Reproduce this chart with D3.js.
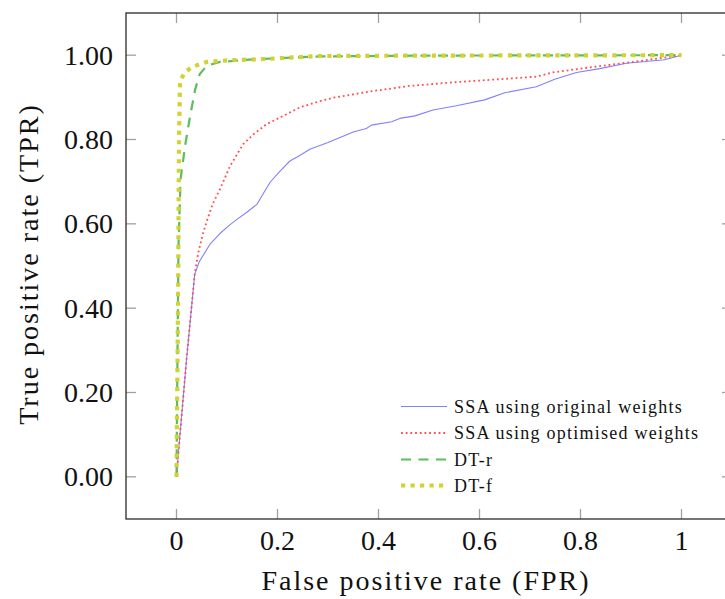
<!DOCTYPE html>
<html><head><meta charset="utf-8">
<script src="https://cdn.jsdelivr.net/npm/d3@7"></script>
<style>
body{margin:0;background:#fff;}
svg{display:block;}
text{font-family:"Liberation Serif","DejaVu Serif",serif;fill:#111;}
</style></head>
<body><svg id="c" width="725" height="599"></svg>
<script>
const xTicks = [0, 0.2, 0.4, 0.6, 0.8, 1];
const xTickLabels = ["0", "0.2", "0.4", "0.6", "0.8", "1"];
const yTicks = [0, 0.2, 0.4, 0.6, 0.8, 1.0];
const yTickLabels = ["0.00", "0.20", "0.40", "0.60", "0.80", "1.00"];
const seriesNames = ["SSA using original weights", "SSA using optimised weights", "DT-r", "DT-f"];

const ssaOriginal = [[0,0],[0.004,0.06],[0.012,0.17],[0.02,0.28],[0.028,0.38],[0.036,0.48],[0.045,0.51],[0.066,0.551],[0.086,0.577],[0.105,0.597],[0.119,0.61],[0.14,0.628],[0.159,0.646],[0.172,0.672],[0.185,0.698],[0.205,0.725],[0.2245,0.749],[0.244,0.762],[0.264,0.777],[0.3,0.793],[0.35,0.818],[0.376,0.826],[0.386,0.834],[0.426,0.842],[0.442,0.850],[0.472,0.856],[0.508,0.870],[0.554,0.880],[0.610,0.894],[0.650,0.911],[0.7125,0.925],[0.749,0.943],[0.792,0.959],[0.838,0.968],[0.891,0.981],[0.966,0.989],[1,1]];
const ssaOptimised = [[0,0],[0.004,0.06],[0.012,0.17],[0.02,0.28],[0.028,0.38],[0.036,0.48],[0.043,0.531],[0.052,0.575],[0.061,0.61],[0.072,0.648],[0.086,0.682],[0.106,0.737],[0.132,0.789],[0.152,0.812],[0.178,0.836],[0.218,0.860],[0.244,0.876],[0.284,0.891],[0.310,0.899],[0.389,0.915],[0.462,0.927],[0.541,0.935],[0.640,0.943],[0.7125,0.949],[0.745,0.959],[0.818,0.971],[0.904,0.984],[0.970,0.995],[1,1]];
const dtR = [[0,0],[0.002,0.3],[0.004,0.55],[0.008,0.705],[0.017,0.785],[0.027,0.856],[0.037,0.919],[0.046,0.955],[0.060,0.975],[0.086,0.984],[0.151,0.990],[0.284,0.997],[0.5,0.999],[1,1]];
const dtF = [[0,0],[0.003,0.4],[0.005,0.8],[0.007,0.939],[0.017,0.960],[0.033,0.973],[0.060,0.984],[0.106,0.988],[0.178,0.991],[0.284,0.998],[0.5,0.999],[1,1]];

const svg = d3.select("#c");
const L = 126, R = 732, T = 13, B = 519;
const x = d3.scaleLinear().domain([-0.1, 1.1]).range([L, R]);
const y = d3.scaleLinear().domain([-0.1, 1.1]).range([B, T]);

const styles = [
  {data: ssaOriginal, color: "#8080ff", width: 1.1, dash: null, cap: "butt"},
  {data: ssaOptimised, color: "#ff4d4d", width: 1.8, dash: "1.8,2.9", cap: "butt"},
  {data: dtR, color: "#5cbd5c", width: 2.2, dash: "10,7.5", cap: "butt"},
  {data: dtF, color: "#d2d232", width: 4.2, dash: "4.2,5.3", cap: "butt"}
];

const g = svg.append("g");
const tickLen = 10;
const tk = g.append("g").attr("stroke", "#a0a0a0").attr("stroke-width", 1.3);
xTicks.forEach(v => {
  tk.append("line").attr("x1", x(v)).attr("x2", x(v)).attr("y1", B).attr("y2", B - tickLen);
  tk.append("line").attr("x1", x(v)).attr("x2", x(v)).attr("y1", T).attr("y2", T + tickLen);
});
yTicks.forEach(v => {
  tk.append("line").attr("x1", L).attr("x2", L + tickLen).attr("y1", y(v)).attr("y2", y(v));
  tk.append("line").attr("x1", R).attr("x2", R - tickLen).attr("y1", y(v)).attr("y2", y(v));
});

const line = d3.line().x(d => x(d[0])).y(d => y(d[1]));
styles.forEach(s => {
  g.append("path").datum(s.data).attr("d", line)
    .attr("fill", "none").attr("stroke", s.color).attr("stroke-width", s.width)
    .attr("stroke-dasharray", s.dash).attr("stroke-linecap", s.cap).attr("stroke-linejoin", "round");
});

g.append("rect").attr("x", L).attr("y", T).attr("width", R - L).attr("height", B - T)
  .attr("fill", "none").attr("stroke", "#2a2a2a").attr("stroke-width", 1.3);

xTicks.forEach((v, i) => {
  g.append("text").attr("x", x(v)).attr("y", 550).attr("text-anchor", "middle")
    .attr("font-size", 28).text(xTickLabels[i]);
});
yTicks.forEach((v, i) => {
  g.append("text").attr("x", 113).attr("y", y(v)).attr("dy", "0.34em").attr("text-anchor", "end")
    .attr("font-size", 28).text(yTickLabels[i]);
});

g.append("text").attr("x", 426).attr("y", 590).attr("text-anchor", "middle")
  .attr("font-size", 28).attr("letter-spacing", 2).text("False positive rate (FPR)");
g.append("text").attr("transform", "translate(38,264) rotate(-90)").attr("text-anchor", "middle")
  .attr("font-size", 28).attr("letter-spacing", 2).text("True positive rate (TPR)");

const legRows = [406.5, 433, 459.5, 485.5];
styles.forEach((s, i) => {
  g.append("line").attr("x1", 401).attr("x2", 447).attr("y1", legRows[i]).attr("y2", legRows[i])
    .attr("stroke", s.color).attr("stroke-width", s.width).attr("stroke-dasharray", s.dash);
  g.append("text").attr("x", 454).attr("y", legRows[i]).attr("dy", "0.35em")
    .attr("font-size", 18).attr("letter-spacing", 1.25).text(seriesNames[i]);
});
</script></body></html>
